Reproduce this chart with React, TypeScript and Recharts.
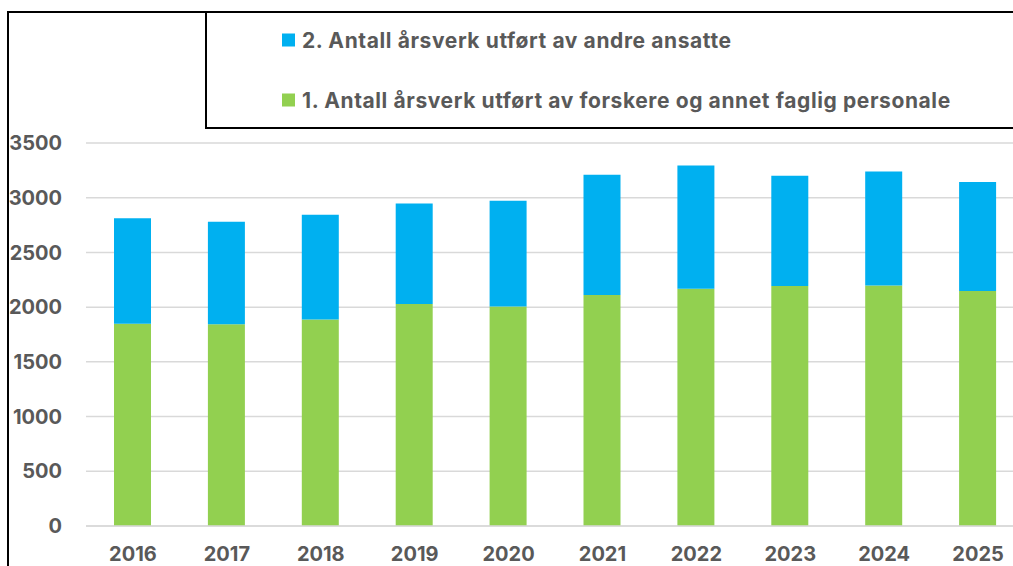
import React from 'react';
import { BarChart, Bar, XAxis, YAxis, CartesianGrid, Legend } from 'recharts';

const years = ['2016', '2017', '2018', '2019', '2020', '2021', '2022', '2023', '2024', '2025'];
const faglig = [1849, 1843, 1886, 2029, 2005, 2112, 2167, 2194, 2197, 2148];
const andre = [964, 937, 958, 918, 967, 1098, 1128, 1007, 1043, 995];
const yTicks = [0, 500, 1000, 1500, 2000, 2500, 3000, 3500];

const NAME_1 = '1. Antall årsverk utført av forskere og annet faglig personale';
const NAME_2 = '2. Antall årsverk utført av andre ansatte';

const data = years.map((year, i) => ({ year, faglig: faglig[i], andre: andre[i] }));

const FONT = 'Inter, "Liberation Sans", Arial, sans-serif';
const TEXT = '#595959';

// legend box: top-right, open on the right side (runs off the picture)
function LegendBox(props: any) {
  const items = [...(props.payload || [])].sort((a: any, b: any) =>
    String(b.value).localeCompare(String(a.value))
  );
  return (
    <div
      style={{
        position: 'absolute',
        left: 0,
        top: 0,
        width: 1400,
        height: 118,
        boxSizing: 'border-box',
        borderTop: '2px solid #000',
        borderLeft: '2px solid #000',
        borderBottom: '2px solid #000',
        background: '#fff',
      }}
    >
      {items.map((item: any, i: number) => (
        <div
          key={item.value}
          style={{
            position: 'absolute',
            left: 75,
            top: 26.5 + i * 60,
            transform: 'translateY(-50%)',
            display: 'flex',
            alignItems: 'center',
            whiteSpace: 'nowrap',
          }}
        >
          <span style={{ display: 'inline-block', width: 13, height: 13, background: item.color, marginRight: 7 }} />
          <span style={{ fontFamily: FONT, fontWeight: 700, fontSize: 21, letterSpacing: 0.6, color: TEXT }}>
            {item.value}
          </span>
        </div>
      ))}
    </div>
  );
}

export default function App() {
  return (
    <div style={{ position: 'fixed', left: 0, top: 0, width: 1013, height: 566, overflow: 'hidden', background: '#fff' }}>
      <style>{'html, body { overflow: hidden; margin: 0; }'}</style>
      <div
        style={{
          position: 'absolute',
          left: 7,
          top: 11,
          width: 1400,
          height: 700,
          borderTop: '2px solid #000',
          borderLeft: '2px solid #000',
        }}
      />
      <div style={{ position: 'absolute', left: 0, top: 0 }}>
        <BarChart
          width={1040}
          height={566}
          data={data}
          margin={{ top: 143, right: 15, left: 0, bottom: 0 }}
          barSize={37}
        >
          <CartesianGrid vertical={false} stroke="#D9D9D9" strokeWidth={1.5} />
          <XAxis
            dataKey="year"
            height={40}
            axisLine={{ stroke: '#D9D9D9', strokeWidth: 1.5 }}
            tickLine={false}
            tickSize={6}
            tickMargin={15}
            tick={{ fill: TEXT, fontFamily: FONT, fontWeight: 700, fontSize: 20 }}
            interval={0}
          />
          <YAxis
            width={86}
            domain={[0, 3500]}
            ticks={yTicks}
            axisLine={false}
            tickLine={false}
            tickSize={6}
            tickMargin={18}
            tick={{ fill: TEXT, fontFamily: FONT, fontWeight: 700, fontSize: 20 }}
          />
          <Legend
            layout="vertical"
            align="center"
            verticalAlign="middle"
            content={<LegendBox />}
            wrapperStyle={{ position: 'absolute', left: 205, top: 11, width: 1400, height: 118 }}
          />
          <Bar dataKey="faglig" name={NAME_1} stackId="a" fill="#92D050" isAnimationActive={false} />
          <Bar dataKey="andre" name={NAME_2} stackId="a" fill="#00B0F0" isAnimationActive={false} />
        </BarChart>
      </div>
    </div>
  );
}
